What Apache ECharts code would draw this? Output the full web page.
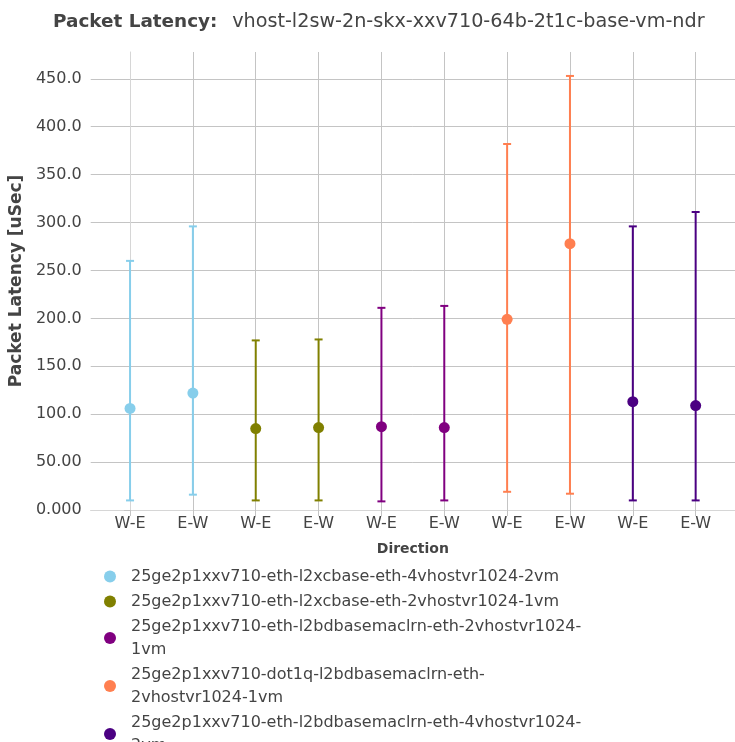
<!DOCTYPE html>
<html>
<head>
<meta charset="utf-8">
<script src="https://cdn.jsdelivr.net/npm/echarts@6/dist/echarts.min.js"></script>
<style>
html, body { margin: 0; padding: 0; background: #fff; }
#main { width: 735px; height: 742px; }
</style>
</head>
<body>
<div id="main"></div>
<script>
var directions = ['W-E', 'E-W', 'W-E', 'E-W', 'W-E', 'E-W', 'W-E', 'E-W', 'W-E', 'E-W'];
var seriesNames = [
	'25ge2p1xxv710-eth-l2xcbase-eth-4vhostvr1024-2vm',
	'25ge2p1xxv710-eth-l2xcbase-eth-2vhostvr1024-1vm',
	'25ge2p1xxv710-eth-l2bdbasemaclrn-eth-2vhostvr1024-1vm',
	'25ge2p1xxv710-dot1q-l2bdbasemaclrn-eth-2vhostvr1024-1vm',
	'25ge2p1xxv710-eth-l2bdbasemaclrn-eth-4vhostvr1024-2vm'
];
var seriesColors = ['#87ceeb', '#808000', '#800080', '#ff7f50', '#4b0082'];
// latency per test, [W-E, E-W]
var avgLat = [[106, 122], [85, 86], [87, 86], [199, 278], [113, 109]];
var minLat = [[10, 16], [10, 10], [9, 10], [19, 17], [10, 10]];
var maxLat = [[260, 296], [177, 178], [211, 213], [382, 453], [296, 311]];
var yTicks = [0, 50, 100, 150, 200, 250, 300, 350, 400, 450];
var xTicks = [0, 1, 2, 3, 4, 5, 6, 7, 8, 9];

var font = 'DejaVu Sans';

// break long legend names at hyphens
function wrapName(name) {
	var parts = name.split(/(?<=-)/);
	var lines = [], cur = '';
	for (var i = 0; i < parts.length; i++) {
		if (cur.length + parts[i].length > 50 && cur) {
			lines.push(cur);
			cur = '';
		}
		cur += parts[i];
	}
	lines.push(cur);
	return lines.join('\n');
}

function renderErr(params, api) {
	var x = api.value(0);
	var lo = api.coord([x, api.value(1)]);
	var hi = api.coord([x, api.value(2)]);
	var w = 4;
	var style = { stroke: api.visual('color'), lineWidth: 2 };
	return {
		type: 'group',
		children: [
			{ type: 'line', shape: { x1: lo[0], y1: lo[1], x2: hi[0], y2: hi[1] }, style: style },
			{ type: 'line', shape: { x1: hi[0] - w, y1: hi[1], x2: hi[0] + w, y2: hi[1] }, style: style },
			{ type: 'line', shape: { x1: lo[0] - w, y1: lo[1], x2: lo[0] + w, y2: lo[1] }, style: style }
		]
	};
}

var series = [];
seriesNames.forEach(function (name, i) {
	var pts = [], errs = [];
	for (var j = 0; j < 2; j++) {
		pts.push([2 * i + j, avgLat[i][j]]);
		errs.push([2 * i + j, minLat[i][j], maxLat[i][j]]);
	}
	series.push({
		name: name,
		type: 'scatter',
		data: pts,
		symbolSize: 11,
		z: 3,
		itemStyle: { color: seriesColors[i], opacity: 1 }
	});
	series.push({
		name: name,
		type: 'custom',
		data: errs,
		renderItem: renderErr,
		z: 2,
		itemStyle: { color: seriesColors[i] }
	});
});

var option = {
	animation: false,
	textStyle: { fontFamily: font },
	title: {
		text: '{b|Packet Latency:} {n|vhost-l2sw-2n-skx-xxv710-64b-2t1c-base-vm-ndr}',
		left: 48,
		top: 8,
		textStyle: {
			fontWeight: 'normal',
			rich: {
				b: { fontFamily: font, fontWeight: 'bold', fontSize: 18.4, color: '#444' },
				n: { fontFamily: font, fontWeight: 'normal', fontSize: 19.2, color: '#444', padding: [0, 0, 0, 9] }
			}
		}
	},
	grid: { left: 89, right: -9, top: 52, bottom: 232 },
	legend: {
		orient: 'vertical',
		left: 99,
		top: 560,
		height: 400,
		icon: 'circle',
		itemWidth: 32,
		itemHeight: 12,
		itemGap: 2,
		data: seriesNames,
		formatter: wrapName,
		textStyle: { fontFamily: font, fontSize: 16, lineHeight: 23, color: '#444' }
	},
	xAxis: {
		type: 'value',
		min: -0.626,
		max: 9.626,
		name: 'Direction',
		nameLocation: 'middle',
		nameGap: 32,
		nameTextStyle: { fontFamily: font, fontWeight: 'bold', fontSize: 14, color: '#444' },
		axisLine: { show: true, lineStyle: { color: '#d6d6d6' } },
		axisTick: { show: true, customValues: xTicks, length: 6, lineStyle: { color: '#c4c4c4' } },
		axisLabel: {
			customValues: xTicks,
			fontSize: 16,
			color: '#444',
			margin: 6,
			formatter: function (v) { return directions[Math.round(v)]; }
		},
		splitLine: { show: true, lineStyle: { color: '#c4c4c4' } }
	},
	yAxis: {
		type: 'value',
		min: 0,
		max: 478,
		name: 'Packet Latency [uSec]',
		nameLocation: 'middle',
		nameGap: 57,
		nameTextStyle: { fontFamily: font, fontWeight: 'bold', fontSize: 17, color: '#444' },
		axisLine: { show: true, lineStyle: { color: '#d6d6d6' } },
		axisTick: { show: true, customValues: yTicks, length: 6, lineStyle: { color: '#c4c4c4' } },
		axisLabel: {
			customValues: yTicks,
			fontSize: 16,
			color: '#444',
			margin: 9,
			formatter: function (v) { return Number(v).toPrecision(4); }
		},
		splitLine: { show: true, lineStyle: { color: '#c4c4c4' } }
	},
	series: series
};

var chart = echarts.init(document.getElementById('main'));
chart.setOption(option);
</script>
</body>
</html>
